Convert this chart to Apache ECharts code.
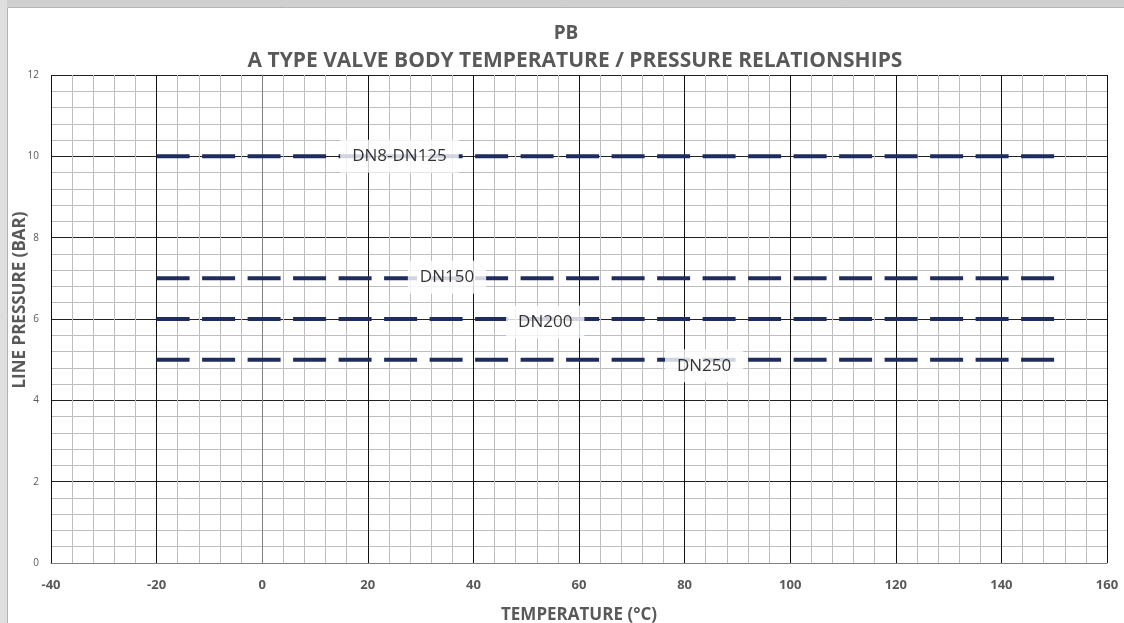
<!DOCTYPE html>
<html>
<head>
<meta charset="utf-8">
<script src="https://cdn.jsdelivr.net/npm/echarts@6/dist/echarts.min.js"></script>
<style>
html,body{margin:0;padding:0;background:#fff;overflow:hidden;}
#chart{width:1124px;height:623px;}
</style>
</head>
<body>
<div id="chart"></div>
<script>
// ---- data ----
const seriesNames = ['DN8-DN125', 'DN150', 'DN200', 'DN250'];
const tempStart = [-20, -20, -20, -20];
const tempEnd = [150, 150, 150, 150];
const pressures = [10, 7, 6, 5];
const labelTemps = [26, 35, 53.6, 83.7];
const xTicks = [-40, -20, 0, 20, 40, 60, 80, 100, 120, 140, 160];
const yTicks = [0, 2, 4, 6, 8, 10, 12];

const lineColor = '#1F2D5E';
const textGray = '#595959';
const labelDy = [0, -1, 3, 6];
const FONT = 'Open Sans';

const series = [];
seriesNames.forEach((name, i) => {
  series.push({
    name: name,
    type: 'line',
    data: [[tempStart[i], pressures[i]], [tempEnd[i], pressures[i]]],
    symbol: 'none',
    lineStyle: { color: lineColor, width: 4, type: [33, 12.5], cap: 'butt' },
    z: 3,
    silent: true
  });
  series.push({
    name: name + ' label',
    type: 'scatter',
    data: [[labelTemps[i], pressures[i]]],
    symbolSize: 0,
    z: 5,
    silent: true,
    label: {
      show: true,
      position: 'inside',
      offset: [0, labelDy[i]],
      formatter: name,
      fontFamily: FONT,
      fontSize: 17,
      color: '#000',
      backgroundColor: '#fff',
      padding: [8, 12, 8, 12]
    }
  });
});

const chart = echarts.init(document.getElementById('chart'), null, { renderer: 'canvas' });
chart.setOption({
  backgroundColor: '#fff',
  animation: false,
  graphic: [
    { type: 'rect', shape: { x: 0, y: 0, width: 1124, height: 7 }, style: { fill: '#cfcfcf' }, z: 100 },
    { type: 'rect', shape: { x: 0, y: 0, width: 7, height: 623 }, style: { fill: '#dedede' }, z: 100 },
    { type: 'line', shape: { x1: 7.5, y1: 7.5, x2: 1124, y2: 7.5 }, style: { stroke: '#b4b4b4', lineWidth: 1 }, z: 100 },
    { type: 'line', shape: { x1: 7.5, y1: 7.5, x2: 7.5, y2: 623 }, style: { stroke: '#b4b4b4', lineWidth: 1 }, z: 100 }
  ],
  title: [
    { text: 'PB', left: 561, textAlign: 'center', top: 19,
      textStyle: { fontFamily: FONT, fontWeight: 'bold', fontSize: 19, color: textGray } },
    { text: 'A TYPE VALVE BODY TEMPERATURE / PRESSURE RELATIONSHIPS', left: 570, textAlign: 'center', top: 46,
      textStyle: { fontFamily: FONT, fontWeight: 'bold', fontSize: 21, color: textGray } }
  ],
  grid: { left: 51, right: 17, top: 75, bottom: 60, containLabel: false, outerBoundsMode: 'none' },
  xAxis: {
    type: 'value', min: xTicks[0], max: xTicks[xTicks.length - 1], interval: 20,
    name: 'TEMPERATURE (°C)', nameLocation: 'middle', nameGap: 44,
    nameTextStyle: { fontFamily: FONT, fontWeight: 'bold', fontSize: 17, color: textGray },
    axisLine: { show: true, lineStyle: { color: '#808080', width: 1 } },
    axisTick: { show: false },
    axisLabel: { fontFamily: FONT, fontWeight: 'bold', fontSize: 13, color: textGray, margin: 16 },
    splitLine: { show: true, lineStyle: { color: '#111', width: 1 } },
    minorTick: { show: false, splitNumber: 5 },
    minorSplitLine: { show: true, lineStyle: { color: '#bdbdbd', width: 1 } }
  },
  yAxis: {
    type: 'value', min: yTicks[0], max: yTicks[yTicks.length - 1], interval: 2,
    name: 'LINE PRESSURE (BAR)', nameLocation: 'middle', nameGap: 22, nameRotate: 90,
    nameMoveOverlap: false,
    nameTextStyle: { fontFamily: FONT, fontWeight: 'bold', fontSize: 17, color: textGray, padding: [0, 0, 0, 38] },
    axisLine: { show: true, lineStyle: { color: '#808080', width: 1 } },
    axisTick: { show: false },
    axisLabel: { fontFamily: FONT, fontSize: 10, color: textGray, margin: 12 },
    splitLine: { show: true, lineStyle: { color: '#222', width: 1 } },
    minorTick: { show: false, splitNumber: 5 },
    minorSplitLine: { show: true, lineStyle: { color: '#bdbdbd', width: 1 } }
  },
  series: series
});
</script>
</body>
</html>
